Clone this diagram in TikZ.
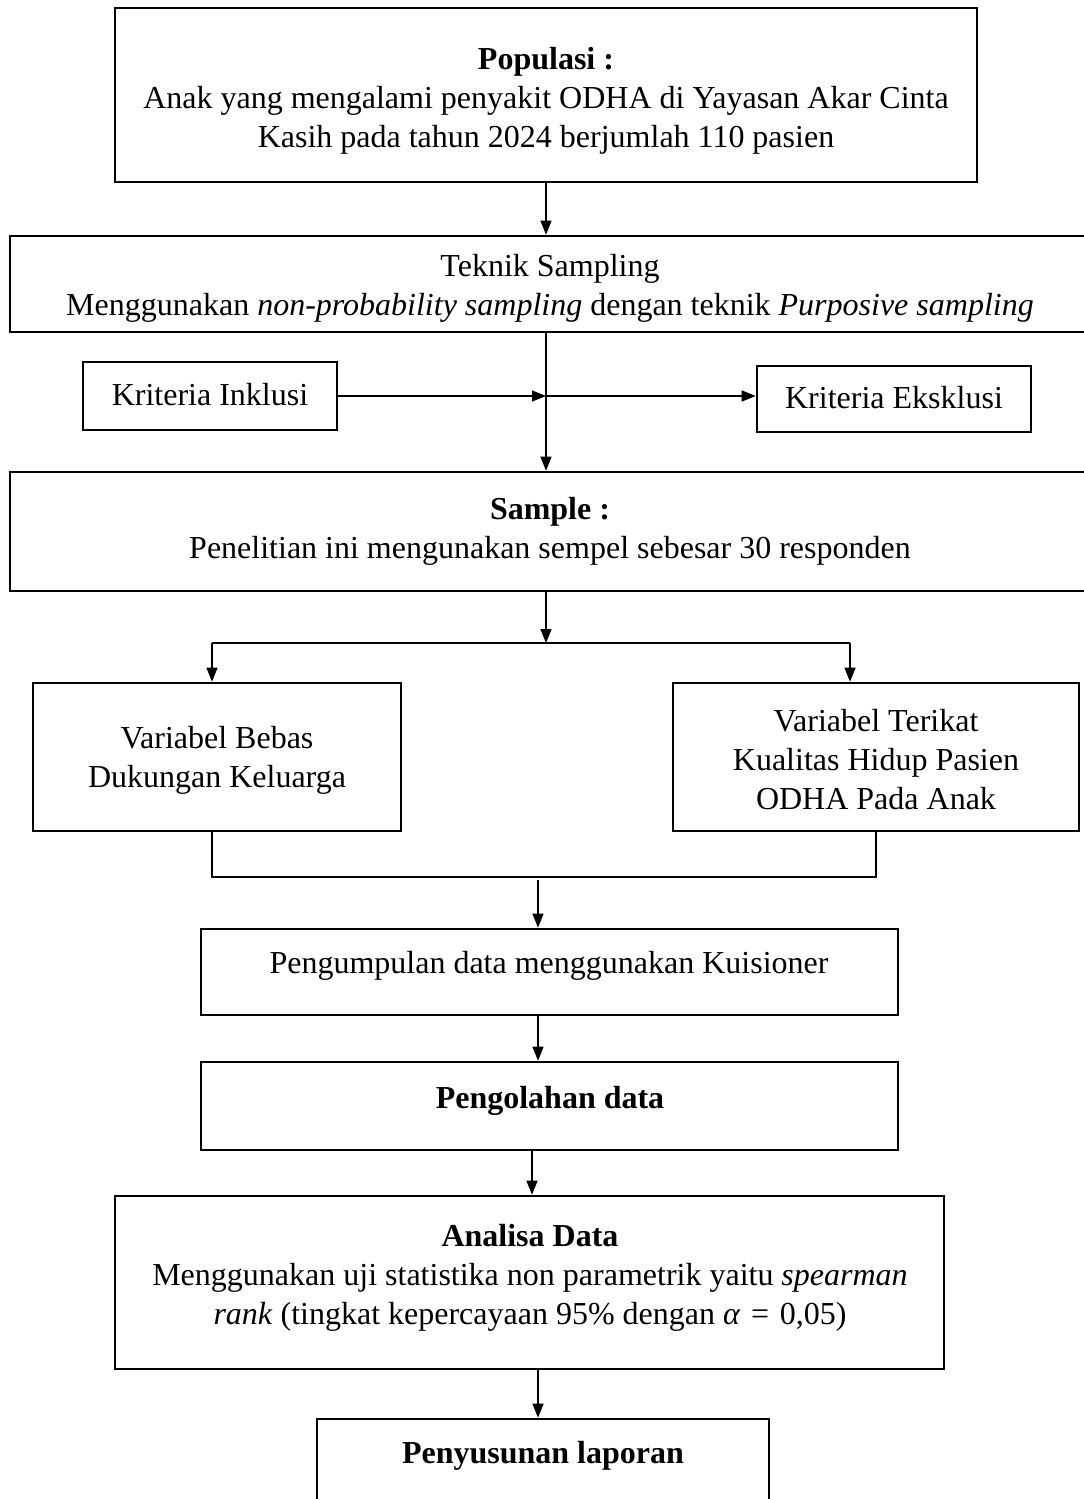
\documentclass[tikz,border=0pt]{standalone}
\usepackage{fontspec}
\setmainfont{Liberation Serif}
\usetikzlibrary{fit,arrows.meta}
\tikzset{
  box/.style={draw=black, line width=1.3pt, inner sep=0pt, fill=none},
  txt/.style={align=center, inner sep=0pt, font=\fontsize{16}{19.5}\selectfont},
  ln/.style={draw=black, line width=0.6pt},
  arr/.style={ln, -{Triangle[length=7pt,width=5.5pt]}},
}
\begin{document}
\begin{tikzpicture}[x=0.5pt,y=-0.5pt]
\useasboundingbox (0,0) rectangle (1083,1499);
% boxes
\node[box, fit={(115,8) (977,182)}] (pop) {};
\node[box, fit={(10,236) (1095,332)}] (tek) {};
\node[box, fit={(83,362) (337,430)}] (ink) {};
\node[box, fit={(757,366) (1031,432)}] (eks) {};
\node[box, fit={(10,472) (1095,591)}] (samp) {};
\node[box, fit={(33,683) (401,831)}] (beb) {};
\node[box, fit={(673,683) (1079,831)}] (ter) {};
\node[box, fit={(201,929) (898,1015)}] (kui) {};
\node[box, fit={(201,1062) (898,1150)}] (olah) {};
\node[box, fit={(115,1196) (944,1369)}] (ana) {};
\node[box, fit={(317,1419) (769,1515)}] (lap) {};
% texts
\node[txt] (tpop) at (546,101) {\textbf{Populasi :}\\Anak yang mengalami penyakit ODHA di Yayasan Akar Cinta\\Kasih pada tahun 2024 berjumlah 110 pasien};
\node[txt] (ttek) at (550,288) {Teknik Sampling\\Menggunakan \textit{non-probability sampling} dengan teknik \textit{Purposive sampling}};
\node[txt] (tink) at (210,395) {Kriteria Inklusi};
\node[txt] (teks) at (894,398) {Kriteria Eksklusi};
\node[txt] (tsamp) at (550,531) {\textbf{Sample :}\\Penelitian ini mengunakan sempel sebesar 30 responden};
\node[txt] (tbeb) at (217,760) {Variabel Bebas\\Dukungan Keluarga};
\node[txt] (tter) at (876,760) {Variabel Terikat\\Kualitas Hidup Pasien\\ODHA Pada Anak};
\node[txt] (tkui) at (549,966) {Pengumpulan data menggunakan Kuisioner};
\node[txt] (tolah) at (550,1101) {\textbf{Pengolahan data}};
\node[txt] (tana) at (530,1278) {\textbf{Analisa Data}\\Menggunakan uji statistika non parametrik yaitu \textit{spearman}\\\textit{rank} (tingkat kepercayaan 95\% dengan \textit{α}\,\,=\,\,0,05)};
\node[txt] (tlap) at (543,1456) {\textbf{Penyusunan laporan}};
% junction coordinates
\coordinate (j) at (546,396);
\coordinate (s) at (546,643);
\coordinate (sl) at (212,643);
\coordinate (sr) at (850,643);
\coordinate (cl) at (212,877);
\coordinate (cr) at (876,877);
\coordinate (m) at (538,880);
\coordinate (a2) at (538,1015);
\coordinate (a3) at (532,1150);
\coordinate (a4) at (538,1369);
% connectors
\draw[arr] (pop.south) -- (pop.south |- tek.north);
\draw[arr] (j |- tek.south) -- (j |- samp.north);
\draw[arr] (ink.east |- j) -- (j);
\draw[arr] (j) -- (eks.west |- j);
\draw[arr] (j |- samp.south) -- (s);
\draw[ln] (sl) -- (sr);
\draw[arr] (sl) -- (sl |- beb.north);
\draw[arr] (sr) -- (sr |- ter.north);
\draw[ln] (cl |- beb.south) -- (cl) -- (cr) -- (cr |- ter.south);
\draw[arr] (m) -- (m |- kui.north);
\draw[arr] (a2 |- kui.south) -- (a2 |- olah.north);
\draw[arr] (a3 |- olah.south) -- (a3 |- ana.north);
\draw[arr] (a4 |- ana.south) -- (a4 |- lap.north);
\end{tikzpicture}
\end{document}
